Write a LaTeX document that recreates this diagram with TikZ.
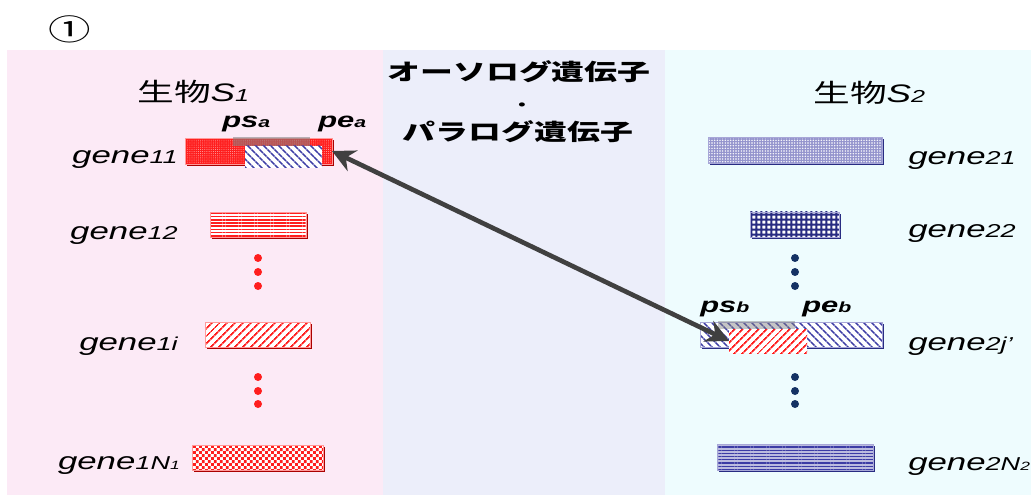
\documentclass[tikz,border=0pt]{standalone}
\usepackage{fontspec}
\setmainfont{Liberation Sans}
\newfontfamily\jpfont{Noto Sans CJK JP}
\newfontfamily\symfont{DejaVu Sans}
\usepackage{graphicx}
\usetikzlibrary{patterns,patterns.meta,arrows.meta,shadows}
\pgfdeclarepatternformonly{smallcheck}{\pgfpointorigin}{\pgfqpoint{4.4pt}{4.4pt}}{\pgfqpoint{4.4pt}{4.4pt}}{%
  \pgfpathrectangle{\pgfpointorigin}{\pgfqpoint{2.2pt}{2.2pt}}%
  \pgfpathrectangle{\pgfqpoint{2.2pt}{2.2pt}}{\pgfqpoint{2.2pt}{2.2pt}}%
  \pgfusepath{fill}}
\definecolor{pinkbg}{RGB}{252,234,246}
\definecolor{lavbg}{RGB}{236,238,250}
\definecolor{cyanbg}{RGB}{238,252,254}
\definecolor{gred}{RGB}{255,30,30}
\definecolor{gdred}{RGB}{170,0,0}
\definecolor{gnavy}{RGB}{40,44,130}
\definecolor{gblue}{RGB}{60,60,165}
\definecolor{dotnavy}{RGB}{20,50,100}
\definecolor{arrgray}{RGB}{64,64,64}
\newcommand\sx[1]{\scalebox{1.45}[1]{#1}}
\newcommand\dg[1]{{\fontsize{14}{14}\selectfont #1}}
\tikzset{
  bar/.style={rectangle, inner sep=0pt, outer sep=0pt, anchor=north west},
  redbar/.style={bar, drop shadow={shadow xshift=1.5pt, shadow yshift=-1.5pt, fill=gdred, opacity=1}, preaction={fill=white}, pattern color=gred, draw=gred!45, line width=0.5pt},
  bluebar/.style={bar, drop shadow={shadow xshift=1.5pt, shadow yshift=-1.5pt, fill=gnavy, opacity=1}, preaction={fill=white}, pattern color=gblue, draw=gblue!45, line width=0.5pt},
  lab/.style={font=\fontsize{18}{20}\selectfont\itshape, inner sep=0pt},
  ttl/.style={font=\fontsize{19}{21}\selectfont, inner sep=0pt, anchor=base west},
  mid/.style={font=\jpfont\bfseries\fontsize{17}{19}\selectfont, inner sep=0pt, anchor=base},
  postxt/.style={font=\fontsize{16}{18}\selectfont\bfseries\itshape, inner sep=0pt, anchor=base west},
  reddot/.style={fill=gred},
  bluedot/.style={fill=dotnavy},
  arr/.style={line width=3.5pt, draw=arrgray, {Stealth[length=17pt,width=17pt]}-{Stealth[length=17pt,width=17pt]}}
}
\begin{document}
\begin{tikzpicture}[x=0.75pt,y=-0.75pt]
\useasboundingbox (0,0) rectangle (1031,495);
% panels
\fill[pinkbg] (7,50) rectangle (383,495);
\fill[lavbg] (383,50) rectangle (665,495);
\fill[cyanbg] (665,50) rectangle (1031,495);
% circled number
\node[font=\jpfont\fontsize{22}{22}\selectfont, inner sep=0pt] (num) at (70,29) {\sx{①}};
% titles
\node[ttl] (s1) at (137,102) {\sx{{\jpfont 生物}{\itshape S{\fontsize{13}{13}\selectfont 1}}}};
\node[ttl] (s2) at (813,103) {\sx{{\jpfont 生物}{\itshape S{\fontsize{13}{13}\selectfont 2}}}};
\node[mid] (m1) at (519,81) {\sx{オーソログ遺伝子}};
\node[mid, font=\jpfont\bfseries\fontsize{11}{11}\selectfont] (m2) at (522,111) {\sx{・}};
\node[mid] (m3) at (518,141) {\sx{パラログ遺伝子}};
% left bars
\node[redbar, preaction={fill=gred}, pattern={Dots[distance=1.6pt,radius=0.35pt]}, pattern color=white!65!gred, minimum width=110.25pt, minimum height=19.5pt] (g11) at (185,138) {};
\fill[gray, opacity=0.55] (233,137) rectangle (310,146);
\node[bar, preaction={fill=white}, pattern={Lines[angle=-45,distance=4pt,line width=1.3pt]}, pattern color=gblue, minimum width=57.75pt, minimum height=16.5pt] (ov1) at (245,146) {};
\node[redbar, pattern={Lines[angle=0,distance=2.4pt,line width=1.1pt]}, minimum width=72pt, minimum height=18.75pt] (g12) at (210,212) {};
\node[redbar, pattern={Lines[angle=45,distance=4pt,line width=1.4pt]}, minimum width=78.75pt, minimum height=18.75pt] (g1i) at (205,322) {};
\node[redbar, pattern=smallcheck, minimum width=98.25pt, minimum height=18.75pt] (g1N) at (192,445) {};
% right bars
\node[bluebar, preaction={fill=gblue!55}, pattern={Dots[distance=2pt,radius=0.6pt]}, pattern color=white, minimum width=130.5pt, minimum height=19.5pt] (g21) at (708,137) {};
\node[bluebar, pattern={Hatch[angle=0,distance=4pt,line width=1.6pt]}, pattern color=gnavy, minimum width=66.75pt, minimum height=18.75pt] (g22) at (750,212) {};
\node[bluebar, pattern={Lines[angle=-45,distance=4pt,line width=1.3pt]}, minimum width=136.5pt, minimum height=18.75pt] (g2j) at (700,322) {};
\fill[gray, opacity=0.45] (718,321) rectangle (795,329);
\node[bar, preaction={fill=white}, pattern={Lines[angle=45,distance=4pt,line width=1.4pt]}, pattern color=gred, minimum width=58.5pt, minimum height=18pt] (ov2) at (729,329) {};
\node[bluebar, preaction={fill=gblue!35}, pattern={Lines[angle=0,distance=2.4pt,line width=0.9pt]}, minimum width=117pt, minimum height=19.5pt] (g2N) at (717,444) {};
% labels left
\node[lab, anchor=base east] (l11) at (178,164) {\sx{gene\dg{11}}};
\node[lab, anchor=base east] (l12) at (178,240) {\sx{gene\dg{12}}};
\node[lab, anchor=base east] (l1i) at (178,350) {\sx{gene\dg{1i}}};
\node[lab, anchor=base east] (l1N) at (180,469) {\sx{gene\dg{1N}{\fontsize{9}{9}\selectfont 1}}};
% labels right
\node[lab, anchor=base west] (l21) at (908,165) {\sx{gene\dg{21}}};
\node[lab, anchor=base west] (l22) at (908,238) {\sx{gene\dg{22}}};
\node[lab, anchor=base west] (l2j) at (908,350) {\sx{gene\dg{2j’}}};
\node[lab, anchor=base west] (l2N) at (908,470) {\sx{gene\dg{2N}{\fontsize{9}{9}\selectfont 2}}};
% positions
\node[postxt] (psa) at (222,128) {\sx{ps{\fontsize{11}{11}\selectfont a}}};
\node[postxt] (pea) at (318,128) {\sx{pe{\fontsize{11}{11}\selectfont a}}};
\node[postxt] (psb) at (700,312) {\sx{ps{\fontsize{11}{11}\selectfont b}}};
\node[postxt] (peb) at (802,312) {\sx{pe{\fontsize{11}{11}\selectfont b}}};
% dots
\foreach \y in {258,272,286,377,391,404} {
  \fill[reddot] (258,\y) circle (3pt);
  \fill[bluedot] (795,\y) circle (3pt);
}
% arrow
\draw[arr] (g11.east) -- (ov2.west);
\end{tikzpicture}
\end{document}
